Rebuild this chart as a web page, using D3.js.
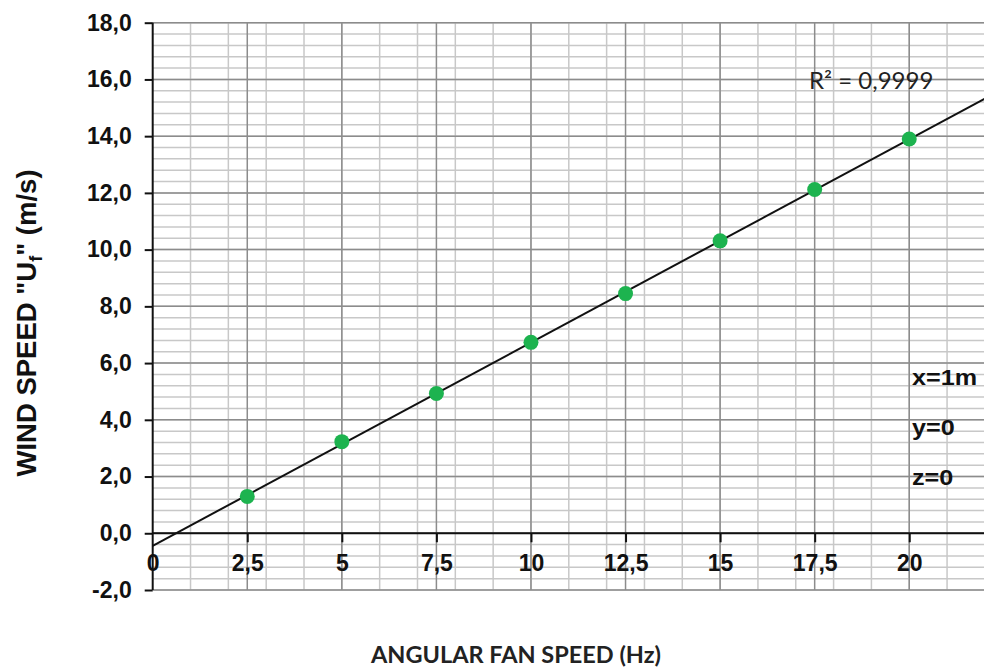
<!DOCTYPE html>
<html>
<head>
<meta charset="utf-8">
<script src="https://cdn.jsdelivr.net/npm/d3@7"></script>
<style>
  body { margin: 0; background: #fff; }
  svg { display: block; }
</style>
</head>
<body>
<svg id="chart" width="984" height="669"></svg>
<script>
// fan frequency (Hz) and measured wind speed (m/s)
var fanSpeed = [2.5, 5, 7.5, 10, 12.5, 15, 17.5, 20];
var windSpeed = [1.3, 3.23, 4.93, 6.73, 8.45, 10.31, 12.12, 13.9];
var xTicks = [0, 2.5, 5, 7.5, 10, 12.5, 15, 17.5, 20];
var yTicks = [-2, 0, 2, 4, 6, 8, 10, 12, 14, 16, 18];
var notes = ['x=1m', 'y=0', 'z=0'];
var r2Label = 'R² = 0,9999';

var ARIAL = "'Liberation Sans', Arial, sans-serif";
var svg = d3.select('#chart');
var x = d3.scaleLinear().domain([0, 22]).range([152.7, 984.9]);
var y = d3.scaleLinear().domain([-2, 18]).range([590, 22.7]);
var comma = d => String(d).replace('.', ',');

// grid: minor every 1 Hz / 0.4 m/s, major every 2.5 Hz / 2 m/s
var grid = svg.append('g');
grid.selectAll('.hmin').data(d3.range(-2, 18.01, 0.4)).enter().append('line')
    .attr('x1', x(0)).attr('x2', x(22))
    .attr('y1', d => y(d)).attr('y2', d => y(d))
    .attr('stroke', '#c8c8c8').attr('stroke-width', 1.5);
grid.selectAll('.vmin').data(d3.range(1, 23, 1)).enter().append('line')
    .attr('x1', d => x(d)).attr('x2', d => x(d))
    .attr('y1', y(-2)).attr('y2', y(18))
    .attr('stroke', '#c8c8c8').attr('stroke-width', 1.5);
grid.selectAll('.hmaj').data(yTicks).enter().append('line')
    .attr('x1', x(0)).attr('x2', x(22))
    .attr('y1', d => y(d)).attr('y2', d => y(d))
    .attr('stroke', '#8c8c8c').attr('stroke-width', 1.5);
grid.selectAll('.vmaj').data(d3.range(2.5, 22, 2.5)).enter().append('line')
    .attr('x1', d => x(d)).attr('x2', d => x(d))
    .attr('y1', y(-2)).attr('y2', y(18))
    .attr('stroke', '#8c8c8c').attr('stroke-width', 1.5);

// axes
var yAxis = svg.append('g').attr('transform', 'translate(' + x(0) + ',0)')
    .call(d3.axisLeft(y).tickValues(yTicks).tickSize(8).tickPadding(13)
        .tickFormat(d => d3.format('.1f')(d).replace('.', ',').replace('−', '-')));
var xAxis = svg.append('g').attr('transform', 'translate(0,' + y(0) + ')')
    .call(d3.axisBottom(x).tickValues(xTicks).tickSize(9).tickPadding(12)
        .tickFormat(comma));
[xAxis, yAxis].forEach(function (g) {
    g.select('.domain').remove();
    g.attr('font-family', null).attr('font-size', null);
    g.selectAll('line').attr('stroke', '#111').attr('stroke-width', 2);
    g.selectAll('text')
        .style('font-family', ARIAL).style('font-weight', 'bold')
        .style('font-size', '23px').attr('fill', '#111');
});
xAxis.select('.tick line').remove();
svg.append('line').attr('x1', x(0)).attr('x2', x(22)).attr('y1', y(0)).attr('y2', y(0))
    .attr('stroke', '#111').attr('stroke-width', 2);
svg.append('line').attr('x1', x(0)).attr('x2', x(0)).attr('y1', y(-2)).attr('y2', y(18))
    .attr('stroke', '#111').attr('stroke-width', 2);

// least-squares trend line
var mx = d3.mean(fanSpeed), my = d3.mean(windSpeed);
var slope = d3.sum(fanSpeed, (d, i) => (d - mx) * (windSpeed[i] - my)) /
            d3.sum(fanSpeed, d => (d - mx) * (d - mx));
var icpt = my - slope * mx;
svg.append('line')
    .attr('x1', x(0)).attr('y1', y(icpt))
    .attr('x2', x(22)).attr('y2', y(icpt + slope * 22))
    .attr('stroke', '#111').attr('stroke-width', 2);

svg.selectAll('.pt').data(fanSpeed).enter().append('circle')
    .attr('cx', d => x(d)).attr('cy', (d, i) => y(windSpeed[i]))
    .attr('r', 7.5).attr('fill', '#1db34f');

svg.append('text').attr('x', 809).attr('y', 89)
    .style('font-family', 'Lato, sans-serif').style('font-size', '24px').attr('fill', '#222')
    .text(r2Label);

// notes are slightly wider than tall in the original
svg.selectAll('.note').data(notes).enter().append('text')
    .attr('transform', (d, i) => 'translate(912,' + (385 + i * 50) + ') scale(1.12,1)')
    .style('font-family', ARIAL).style('font-weight', 'bold')
    .style('font-size', '22.5px').attr('fill', '#111')
    .text(d => d);

// axis titles
var yt = svg.append('text').attr('transform', 'translate(36,323) rotate(-90)')
    .attr('text-anchor', 'middle')
    .style('font-family', ARIAL).style('font-weight', 'bold')
    .style('font-size', '27.5px').attr('fill', '#111');
yt.append('tspan').text('WIND SPEED "U');
yt.append('tspan').style('font-size', '18px').attr('dy', 6).text('f');
yt.append('tspan').attr('dy', -6).text('" (m/s)');

svg.append('text').attr('x', 516).attr('y', 663).attr('text-anchor', 'middle')
    .style('font-family', 'Lato, sans-serif').style('font-weight', 'bold')
    .style('font-size', '23.5px').attr('fill', '#222')
    .text('ANGULAR FAN SPEED (Hz)');
</script>
</body>
</html>
